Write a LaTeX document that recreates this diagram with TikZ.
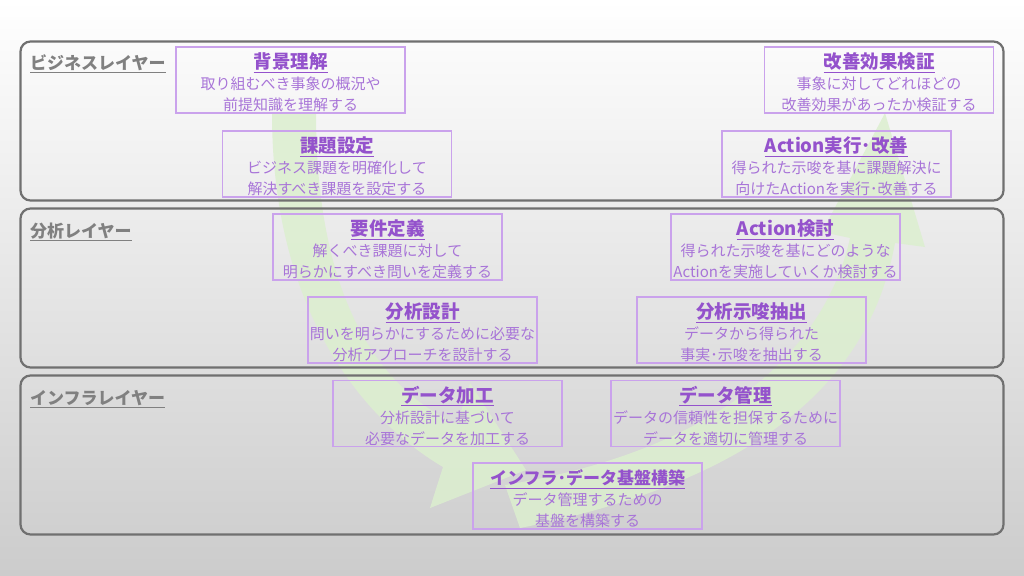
\documentclass[tikz,border=0pt]{standalone}
\usepackage{fontspec}
\setmainfont{Noto Sans CJK JP}
\definecolor{layerline}{RGB}{112,112,112}
\definecolor{layertext}{RGB}{128,128,128}
\definecolor{boxline}{RGB}{202,162,236}
\definecolor{titletext}{RGB}{148,82,204}
\definecolor{bodytext}{RGB}{168,116,216}
\definecolor{arrowgreen}{RGB}{220,239,207}
\newcommand\steptitle[2][18.5]{\rule{0pt}{21pt}{\fontsize{#1}{21}\selectfont\bfseries\color{titletext}\underline{#2}}}
\begin{document}
\begin{tikzpicture}[x=1pt,y=-1pt,
  layerbox/.style={draw=layerline,line width=2.2pt,rounded corners=10pt,minimum width=983pt,minimum height=159pt,inner sep=0pt},
  layertitle/.style={anchor=west,inner sep=0pt,text=layertext,font=\fontsize{17}{20}\selectfont\bfseries},
  stepbox/.style={draw=boxline,line width=1.4pt,minimum width=229pt,minimum height=66pt,inner sep=0pt,align=center,text=bodytext,font=\fontsize{15}{21}\selectfont},
  flowarrow/.style={fill=arrowgreen,opacity=.85}]
\useasboundingbox (0,0) rectangle (1024,575);
\shade[top color=white,middle color=black!3,bottom color=black!20] (0,0) rectangle (1024,575);

\fill[flowarrow] (272,113) .. controls (272,330) and (380,430) .. (443,467) -- (430,508) -- (526,470) -- (470,383) -- (457,424) .. controls (380,390) and (316,300) .. (316,113) -- cycle;
\fill[flowarrow] (520,528) .. controls (760,480) and (870,380) .. (895,243) -- (925,247) -- (885,113) -- (822,232) -- (850,238) .. controls (825,350) and (720,450) .. (505,485) -- cycle;

\node[layerbox] (business) at (512,121) {};
\node[layerbox] (analysis) at (512,288) {};
\node[layerbox] (infra) at (512,455) {};

\node[layertitle] (businesstitle) at (30,64) {\underline{ビジネスレイヤー}};
\node[layertitle] (analysistitle) at (30,232) {\underline{分析レイヤー}};
\node[layertitle] (infratitle) at (30,399) {\underline{インフラレイヤー}};

\node[stepbox] (background) at (290.5,80) {\steptitle{背景理解}\\取り組むべき事象の概況や\\前提知識を理解する};
\node[stepbox] (issue) at (337,164) {\steptitle{課題設定}\\ビジネス課題を明確化して\\解決すべき課題を設定する};
\node[stepbox] (requirement) at (387.5,247) {\steptitle{要件定義}\\解くべき課題に対して\\明らかにすべき問いを定義する};
\node[stepbox] (design) at (422.5,330) {\steptitle{分析設計}\\問いを明らかにするために必要な\\分析アプローチを設計する};
\node[stepbox] (processing) at (447.5,413.5) {\steptitle{データ加工}\\分析設計に基づいて\\必要なデータを加工する};
\node[stepbox] (platform) at (587.5,496) {\steptitle[17]{インフラ･データ基盤構築}\\データ管理するための\\基盤を構築する};
\node[stepbox] (management) at (725.5,413.5) {\steptitle{データ管理}\\データの信頼性を担保するために\\データを適切に管理する};
\node[stepbox] (insight) at (751.5,330) {\steptitle{分析示唆抽出}\\データから得られた\\事実･示唆を抽出する};
\node[stepbox] (actionplan) at (785.5,247) {\steptitle{Action検討}\\得られた示唆を基にどのような\\Actionを実施していくか検討する};
\node[stepbox] (actionrun) at (836.5,164) {\steptitle{Action実行･改善}\\得られた示唆を基に課題解決に\\向けたActionを実行･改善する};
\node[stepbox] (evaluation) at (879,80) {\steptitle{改善効果検証}\\事象に対してどれほどの\\改善効果があったか検証する};
\end{tikzpicture}
\end{document}
